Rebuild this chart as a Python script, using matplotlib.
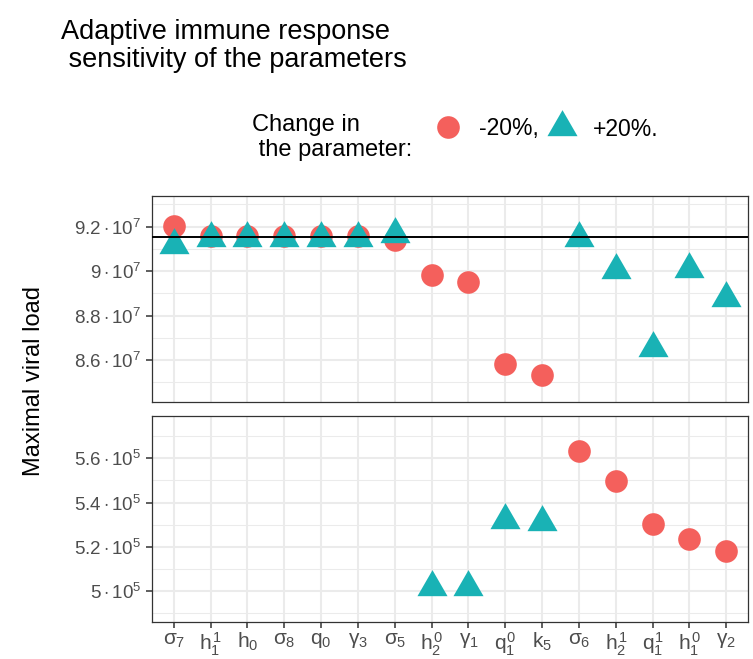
import matplotlib
matplotlib.use("Agg")
import matplotlib.pyplot as plt
from matplotlib.lines import Line2D
from matplotlib.ticker import FixedLocator, FixedFormatter

plt.rcParams["font.family"] = "Liberation Sans"
plt.rcParams["mathtext.fontset"] = "custom"
plt.rcParams["mathtext.rm"] = "Liberation Sans"
plt.rcParams["mathtext.it"] = "Liberation Sans"
plt.rcParams["mathtext.bf"] = "Liberation Sans:bold"

# --- data ------------------------------------------------------------------
param_labels = [
    r"$\sigma_7$", r"$h_1^1$", r"$h_0$", r"$\sigma_8$", r"$q_0$", r"$\gamma_3$",
    r"$\sigma_5$", r"$h_2^0$", r"$\gamma_1$", r"$q_1^0$", r"$k_5$", r"$\sigma_6$",
    r"$h_2^1$", r"$q_1^1$", r"$h_1^0$", r"$\gamma_2$",
]
minus20 = [
    9.205e7, 9.158e7, 9.158e7, 9.158e7, 9.158e7, 9.158e7, 9.140e7, 8.982e7,
    8.951e7, 8.581e7, 8.533e7, 5.633e5, 5.499e5, 5.303e5, 5.234e5, 5.183e5,
]
plus20 = [
    9.118e7, 9.151e7, 9.151e7, 9.151e7, 9.151e7, 9.151e7, 9.167e7, 5.017e5,
    5.020e5, 5.319e5, 5.313e5, 9.149e7, 9.003e7, 8.654e7, 9.010e7, 8.880e7,
]
baseline_load = 9.154e7

top_ticks = [8.6e7, 8.8e7, 9.0e7, 9.2e7]
top_tick_labels = [r"$8.6\cdot10^{7}$", r"$8.8\cdot10^{7}$", r"$9\cdot10^{7}$", r"$9.2\cdot10^{7}$"]
top_minor = [8.5e7, 8.7e7, 8.9e7, 9.1e7, 9.3e7]
bottom_ticks = [5.0e5, 5.2e5, 5.4e5, 5.6e5]
bottom_tick_labels = [r"$5\cdot10^{5}$", r"$5.2\cdot10^{5}$", r"$5.4\cdot10^{5}$", r"$5.6\cdot10^{5}$"]
bottom_minor = [4.9e5, 5.1e5, 5.3e5, 5.5e5, 5.7e5]

RED = "#F4605C"
TEAL = "#19B2B5"
TRI = [(0, 1), (-0.866, -0.5), (0.866, -0.5)]  # R-style triangle, centroid on point
W, H = 753, 659


def px_axes(fig, x0, y0, x1, y1):
    return fig.add_axes([x0 / W, 1 - y1 / H, (x1 - x0) / W, (y1 - y0) / H])


def style_panel(ax, ticks, labels, minor):
    ax.set_xlim(-0.6, 15.6)
    ax.set_xticks(range(len(param_labels)))
    ax.yaxis.set_major_locator(FixedLocator(ticks))
    ax.yaxis.set_major_formatter(FixedFormatter(labels))
    ax.yaxis.set_minor_locator(FixedLocator(minor))
    ax.grid(True, which="major", color="#EBEBEB", lw=1.5, zorder=0)
    ax.grid(True, which="minor", axis="y", color="#EBEBEB", lw=0.75, zorder=0)
    ax.set_axisbelow(True)
    for sp in ax.spines.values():
        sp.set_color("#333333")
        sp.set_linewidth(0.9)
    ax.tick_params(which="major", direction="out", length=4.5, width=1.1,
                   color="#333333", labelcolor="#4D4D4D", labelsize=13.5, pad=3)
    ax.tick_params(which="minor", length=0)


fig = plt.figure(figsize=(W / 100, H / 100), dpi=100)
ax_top = px_axes(fig, 151.7, 195.7, 748.3, 401.7)
ax_bot = px_axes(fig, 151.7, 415.7, 748.3, 621.7)

for ax, lo, hi in [(ax_top, 8.4123e7, 9.3395e7), (ax_bot, 4.8612e5, 5.7926e5)]:
    xs_m = [i for i, v in enumerate(minus20) if lo <= v <= hi]
    ys_m = [minus20[i] for i in xs_m]
    xs_p = [i for i, v in enumerate(plus20) if lo <= v <= hi]
    ys_p = [plus20[i] for i in xs_p]
    ax.scatter(xs_m, ys_m, s=16.3 ** 2, marker="o", color=RED, lw=0, zorder=3)
    ax.scatter(xs_p, ys_p, s=25 ** 2, marker=TRI, color=TEAL, lw=0, zorder=4)
    ax.set_ylim(lo, hi)

style_panel(ax_top, top_ticks, top_tick_labels, top_minor)
style_panel(ax_bot, bottom_ticks, bottom_tick_labels, bottom_minor)
ax_top.axhline(baseline_load, color="black", lw=1.4, zorder=5)
ax_top.tick_params(axis="x", length=0, labelbottom=False)
ax_bot.set_xticklabels(param_labels)
ax_bot.tick_params(axis="x", labelsize=15, pad=2)

# va="baseline" on multi-line text anchors the last line
fig.text(60.7 / W, 1 - 66.7 / H, "Adaptive immune response\n sensitivity of the parameters",
         fontsize=19.5, va="baseline", ha="left", linespacing=1.1)
fig.text(34 / W, 1 - 381 / H, "Maximal viral load", rotation=90, fontsize=17,
         ha="center", va="center")
fig.text(251.7 / W, 1 - 155.7 / H, "Change in\n the parameter:", fontsize=17,
         va="baseline", ha="left", linespacing=1.15)

handles = [
    Line2D([], [], marker="o", ms=16.3, color=RED, lw=0, mew=0),
    Line2D([], [], marker=TRI, ms=25, color=TEAL, lw=0, mew=0),
]
fig.legend(handles, ["-20%,", "+20%."], ncol=2, loc="center left",
           bbox_to_anchor=(436.8 / W, 1 - 129 / H), frameon=False, fontsize=16.5,
           handlelength=1.0, handletextpad=0.85, columnspacing=0.5,
           borderpad=0, borderaxespad=0)

fig.savefig("out.png", dpi=100)
